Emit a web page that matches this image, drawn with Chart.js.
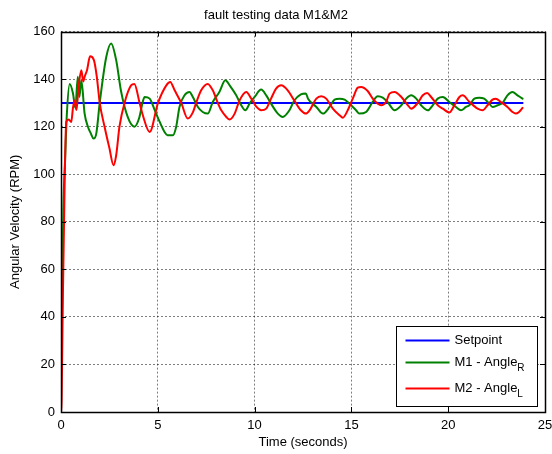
<!DOCTYPE html>
<html>
<head>
<meta charset="utf-8">
<title>fault testing data M1&amp;M2</title>
<script src="https://cdn.jsdelivr.net/npm/chart.js@4/dist/chart.umd.min.js"></script>
<style>
  html, body { margin: 0; padding: 0; background: #fff; }
  #chart { display: block; }
</style>
</head>
<body>
<canvas id="chart" width="552" height="454"></canvas>
<script>
const X_TICKS = [0, 5, 10, 15, 20, 25];
const Y_TICKS = [0, 20, 40, 60, 80, 100, 120, 140, 160];

const SETPOINT_TIME = [0, 23.84];
const SETPOINT_RPM = [130, 130];

// M1 - Angle_R (green)
const M1_TIME = [
  0, 0.03, 0.12, 0.22, 0.3, 0.45, 0.62, 0.74, 0.87, 0.95,
  1.05, 1.22, 1.39, 1.55, 1.68, 1.82, 2.0, 2.33, 2.59, 2.85,
  3.1, 3.45, 3.79, 4.05, 4.22, 4.32, 4.58, 4.84, 5.1, 5.35,
  5.5, 5.78, 5.95, 6.12, 6.38, 6.64, 6.81, 7.07, 7.32, 7.58,
  7.84, 8.18, 8.49, 8.71, 9.05, 9.31, 9.52, 9.74, 10.0, 10.34,
  10.6, 10.85, 11.2, 11.45, 11.8, 12.05, 12.39, 12.65, 12.76, 13.19,
  13.53, 13.87, 14.13, 14.39, 14.65, 14.9, 15.24, 15.41, 15.76, 16.1,
  16.36, 16.62, 16.87, 17.23, 17.58, 17.83, 18.09, 18.35, 18.6, 18.95,
  19.2, 19.46, 19.72, 20.06, 20.4, 20.66, 20.92, 21.09, 21.35, 21.6,
  21.86, 22.12, 22.29, 22.55, 22.81, 23.06, 23.32, 23.58, 23.84
];
const M1_RPM = [
  0, 30, 85, 108, 125, 138, 134, 128, 141, 132.5,
  139.5, 125.5, 120, 117, 115, 117, 130, 149, 155, 148,
  135, 124, 120, 124, 130.4, 132.5, 131.8, 127, 122, 117.8,
  116.4, 116.4, 120, 128.3, 133.2, 134.6, 132.5, 128.3, 126.2, 125.5,
  130.4, 134.6, 139.5, 137.4, 133.2, 129, 126.9, 129.7, 132.5, 135.6,
  133.2, 129.7, 125.5, 124.1, 126.9, 131, 133.6, 134, 131.8, 128.3,
  125.5, 128.3, 131.4, 131.8, 131.4, 129.7, 126.9, 125.5, 126.2, 130.4,
  132.8, 132.2, 130.4, 126.9, 129, 131.8, 133.2, 131.8, 129, 126.9,
  129, 131.8, 132.5, 130.4, 128.3, 126.9, 128.3, 129, 131.8, 132.2,
  131.8, 129.7, 128.3, 129, 130, 133.2, 134.6, 133.2, 131.8
];

// M2 - Angle_L (red)
const M2_TIME = [
  0, 0.03, 0.1, 0.19, 0.27, 0.4, 0.53, 0.62, 0.7, 0.8,
  0.9, 1.05, 1.15, 1.22, 1.35, 1.5, 1.7, 1.85, 2.0, 2.25,
  2.5, 2.71, 2.85, 3.02, 3.28, 3.62, 3.79, 4.06, 4.22, 4.58,
  5.01, 5.44, 5.64, 5.87, 6.21, 6.55, 6.81, 6.98, 7.24, 7.58,
  7.84, 8.1, 8.28, 8.54, 8.71, 8.97, 9.22, 9.57, 9.83, 10.1,
  10.34, 10.6, 10.85, 11.11, 11.37, 11.71, 12.05, 12.39, 12.65, 12.84,
  13.19, 13.44, 13.7, 14.04, 14.39, 14.56, 14.81, 15.07, 15.33, 15.5,
  15.84, 16.1, 16.36, 16.53, 16.79, 16.97, 17.23, 17.58, 17.92, 18.09,
  18.43, 18.69, 18.91, 19.12, 19.46, 19.72, 20.06, 20.32, 20.58, 20.75,
  21.09, 21.52, 21.78, 22.03, 22.29, 22.46, 22.72, 23.06, 23.32, 23.49,
  23.66, 23.84
];
const M2_RPM = [
  0, 5, 50, 97, 122, 123, 122, 128, 131, 127,
  136, 143.7, 139, 141, 144, 149.6, 148, 141, 130, 120,
  111, 103.8, 108, 120, 130, 137.4, 138, 130, 125, 117.8,
  130, 137.4, 138.8, 135.3, 130, 123.4, 126, 130, 135.3, 138,
  135.3, 130, 126.9, 124.1, 123, 125.5, 131, 134.6, 131.8, 128.3,
  126.9, 127.6, 131.8, 136, 137.4, 135.3, 131, 126.9, 125.5, 126.9,
  131.8, 132.8, 131.8, 127.6, 124.8, 123.8, 126.9, 131.8, 136.4, 136.7,
  135, 131.8, 129.7, 129, 130.4, 133.9, 134.6, 132.5, 129, 127.6,
  130, 133.2, 134.2, 132.5, 129, 127.6, 126, 129, 132.5, 133.2,
  130.5, 127.6, 126.9, 129, 131.4, 131.8, 130.4, 128.3, 126.2, 125.5,
  126.2, 127.9
];

const LEGEND_ITEMS = [
  { text: "Setpoint", sub: "", color: "#0000ff" },
  { text: "M1 - Angle", sub: "R", color: "#008000" },
  { text: "M2 - Angle", sub: "L", color: "#ff0000" }
];

const FONT = "'Liberation Sans', Arial, sans-serif";

function toPoints(xs, ys) {
  return xs.map((x, i) => ({ x: x, y: ys[i] }));
}

// box, inward tick marks and the legend, drawn the matlab way
const matlabFrame = {
  id: "matlabFrame",
  afterDatasetsDraw(chart) {
    const { ctx, chartArea: a, scales } = chart;
    ctx.save();
    ctx.strokeStyle = "#000";
    ctx.lineWidth = 1;
    ctx.beginPath();
    X_TICKS.forEach(v => {
      const px = Math.round(scales.x.getPixelForValue(v)) + 0.5;
      ctx.moveTo(px, a.bottom); ctx.lineTo(px, a.bottom - 5);
      ctx.moveTo(px, a.top); ctx.lineTo(px, a.top + 5);
    });
    Y_TICKS.forEach(v => {
      const py = Math.round(scales.y.getPixelForValue(v)) + 0.5;
      ctx.moveTo(a.left, py); ctx.lineTo(a.left + 5, py);
      ctx.moveTo(a.right, py); ctx.lineTo(a.right - 5, py);
    });
    ctx.stroke();
    ctx.lineWidth = 1.5;
    ctx.strokeRect(Math.round(a.left) + 0.5, Math.round(a.top) + 0.5,
      Math.round(a.right - a.left), Math.round(a.bottom - a.top));
    ctx.restore();
  },
  afterDraw(chart) {
    const { ctx, chartArea: a } = chart;
    const w = 141, h = 80;
    const left = Math.round(a.right - 8 - w) + 0.5;
    const top = Math.round(a.bottom - 6 - h) + 0.5;
    const rows = [14, 36, 62];
    ctx.save();
    ctx.fillStyle = "#fff";
    ctx.fillRect(left, top, w, h);
    ctx.strokeStyle = "#000";
    ctx.lineWidth = 1;
    ctx.strokeRect(left, top, w, h);
    ctx.textBaseline = "middle";
    ctx.textAlign = "left";
    LEGEND_ITEMS.forEach((item, i) => {
      const y = top + rows[i];
      ctx.strokeStyle = item.color;
      ctx.lineWidth = 2;
      ctx.beginPath();
      ctx.moveTo(left + 9, y);
      ctx.lineTo(left + 53, y);
      ctx.stroke();
      ctx.fillStyle = "#000";
      ctx.font = "13px " + FONT;
      ctx.fillText(item.text, left + 58, y);
      if (item.sub) {
        const tw = ctx.measureText(item.text).width;
        ctx.font = "10px " + FONT;
        ctx.fillText(item.sub, left + 58 + tw, y + 6);
      }
    });
    ctx.restore();
  }
};

const gridStyle = { color: "rgba(0,0,0,0.5)", drawTicks: false, lineWidth: 1 };

new Chart(document.getElementById("chart"), {
  type: "line",
  data: {
    datasets: [
      {
        label: "Setpoint",
        data: toPoints(SETPOINT_TIME, SETPOINT_RPM),
        borderColor: "#0000ff",
        borderWidth: 2,
        order: 3
      },
      {
        label: "M1 - AngleR",
        data: toPoints(M1_TIME, M1_RPM),
        borderColor: "#008000",
        borderWidth: 2,
        order: 2
      },
      {
        label: "M2 - AngleL",
        data: toPoints(M2_TIME, M2_RPM),
        borderColor: "#ff0000",
        borderWidth: 2,
        order: 1
      }
    ]
  },
  options: {
    responsive: false,
    animation: false,
    events: [],
    layout: { padding: { left: 0, right: 0, top: 0, bottom: 0 } },
    elements: {
      point: { radius: 0 },
      line: { cubicInterpolationMode: "monotone", borderJoinStyle: "round", borderCapStyle: "round" }
    },
    plugins: {
      legend: { display: false },
      tooltip: { enabled: false },
      title: {
        display: true,
        text: "fault testing data M1&M2",
        color: "#000",
        font: { family: FONT, size: 13, weight: "normal" },
        padding: { top: 8, bottom: 8 }
      }
    },
    scales: {
      x: {
        type: "linear",
        min: 0,
        max: 25,
        afterBuildTicks: s => { s.ticks = X_TICKS.map(v => ({ value: v })); },
        afterFit: s => {
          s.height = 42;
          s.paddingLeft = 0;
          s.paddingRight = 7;
        },
        grid: gridStyle,
        border: { display: false, dash: [2, 2] },
        ticks: {
          color: "#000",
          padding: 6,
          font: { family: FONT, size: 13 },
          maxRotation: 0
        },
        title: {
          display: true,
          text: "Time (seconds)",
          color: "#000",
          font: { family: FONT, size: 13 },
          padding: { top: 0, bottom: 4 }
        }
      },
      y: {
        type: "linear",
        min: 0,
        max: 160,
        afterBuildTicks: s => { s.ticks = Y_TICKS.map(v => ({ value: v })); },
        afterFit: s => { s.width = 61; },
        grid: gridStyle,
        border: { display: false, dash: [2, 2] },
        ticks: {
          color: "#000",
          padding: 6,
          font: { family: FONT, size: 13 }
        },
        title: {
          display: true,
          text: "Angular Velocity (RPM)",
          color: "#000",
          font: { family: FONT, size: 13 },
          padding: { top: 8, bottom: 0 }
        }
      }
    }
  },
  plugins: [matlabFrame]
});
</script>
</body>
</html>
